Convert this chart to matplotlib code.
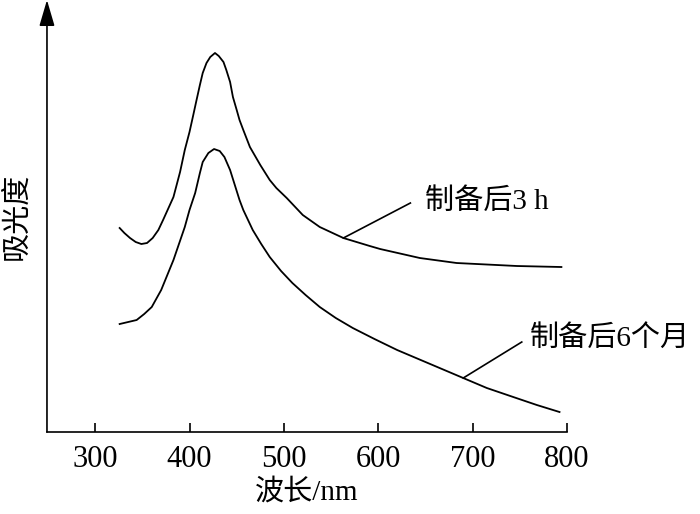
""" Absorbance spectra of the sample, 3 h and 6 months after preparation """
import matplotlib
matplotlib.use('Agg')
import matplotlib.pyplot as plt

plt.rcParams['font.family'] = ['Liberation Serif', 'Noto Sans CJK SC', 'DejaVu Sans']

# wavelength (nm) and absorbance (a.u.)
wl_3h = [326, 331, 337, 343, 349, 355, 361, 367, 372, 383, 390, 395, 400,
         404, 407, 411, 414, 418, 422, 427, 431, 436, 439, 443, 446, 450,
         453, 457, 464, 475, 485, 492, 503, 520, 538, 563, 591, 602, 644,
         683, 747, 794]
abs_3h = [2.04, 1.99, 1.94, 1.90, 1.88, 1.89, 1.94, 2.02, 2.12, 2.35, 2.60,
          2.82, 3.00, 3.17, 3.30, 3.47, 3.59, 3.69, 3.75, 3.79, 3.76, 3.70,
          3.62, 3.50, 3.35, 3.22, 3.12, 3.02, 2.85, 2.67, 2.52, 2.44, 2.34,
          2.17, 2.05, 1.94, 1.86, 1.83, 1.74, 1.69, 1.66, 1.65]

wl_6m = [326, 344, 352, 360, 370, 383, 395, 400, 406, 411, 414, 420, 426,
         432, 437, 443, 448, 453, 457, 467, 476, 485, 497, 509, 523, 538,
         555, 573, 596, 620, 655, 690, 715, 743, 768, 792]
abs_6m = [1.08, 1.12, 1.18, 1.25, 1.42, 1.72, 2.05, 2.22, 2.39, 2.59, 2.70,
          2.79, 2.83, 2.81, 2.75, 2.62, 2.47, 2.32, 2.22, 2.02, 1.88, 1.75,
          1.61, 1.49, 1.37, 1.25, 1.14, 1.04, 0.93, 0.82, 0.68, 0.54, 0.44,
          0.35, 0.27, 0.20]

x_ticks = [300, 400, 500, 600, 700, 800]
labels = ['制备后3 h', '制备后6个月']
# leader line: point on curve, then end near the text
lead_3h = [(563, 1.94), (634, 2.29)]
lead_6m = [(690, 0.54), (752, 0.90)]

fig = plt.figure(figsize=(7, 5.14), dpi=100)
ax = fig.add_axes([0.0671, 0.1595, 0.743, 0.8405])

ax.plot(wl_3h, abs_3h, color='black', lw=1.3, solid_joinstyle='round')
ax.plot(wl_6m, abs_6m, color='black', lw=1.3, solid_joinstyle='round')

# label leaders
ax.plot([p[0] for p in lead_3h], [p[1] for p in lead_3h], color='black', lw=1.2)
ax.plot([p[0] for p in lead_6m], [p[1] for p in lead_6m], color='black', lw=1.2)
ax.text(649, 2.30, labels[0], fontsize=21, ha='left', va='center')
ax.text(760, 0.94, labels[1], fontsize=21, ha='left', va='center', clip_on=False)

ax.set_xlim(249, 800)
ax.set_ylim(0, 4.32)
ax.set_xticks(x_ticks)
ax.set_yticks([])
ax.tick_params(axis='x', direction='in', length=6.5, width=1.2, labelsize=22, pad=9)

ax.spines['top'].set_visible(False)
ax.spines['right'].set_visible(False)
ax.spines['left'].set_visible(False)
ax.spines['bottom'].set_linewidth(1.2)

# y axis with arrow head
ax.annotate('', xy=(0, 1), xytext=(0, 0), xycoords='axes fraction',
            arrowprops=dict(arrowstyle='-|>,head_length=1.6,head_width=0.47',
                            mutation_scale=10, color='black', lw=1.2,
                            shrinkA=0, shrinkB=0))

ax.set_xlabel('波长/nm', fontsize=21, labelpad=4)
ax.set_ylabel('吸光度', fontsize=21, labelpad=12)

fig.savefig('out.png', dpi=100)
